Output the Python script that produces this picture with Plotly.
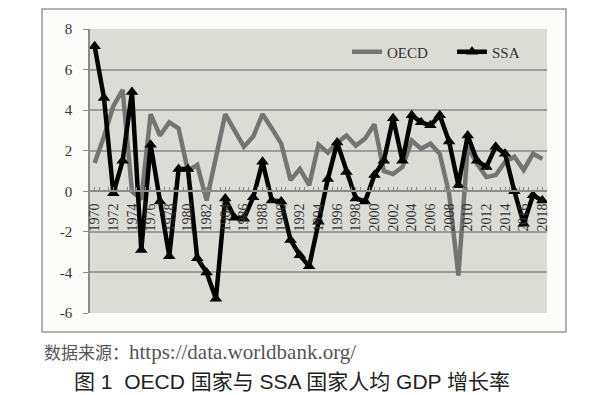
import plotly.graph_objects as go

years = list(range(1970, 2019))
oecd = [1.4, 2.7, 4.2, 5.0, 0.0, -0.4, 3.8, 2.75, 3.4, 3.1, 1.0, 1.3, -0.45,
        1.8, 3.8, 3.0, 2.2, 2.7, 3.8, 3.1, 2.35, 0.55, 1.1, 0.3, 2.3, 1.9,
        2.4, 2.75, 2.25, 2.6, 3.3, 1.0, 0.85, 1.2, 2.5, 2.1, 2.35, 1.85,
        -0.1, -4.15, 2.2, 1.35, 0.7, 0.8, 1.45, 1.7, 1.05, 1.85, 1.6]
ssa = [7.15, 4.6, -0.1, 1.5, 4.9, -2.9, 2.3, -0.5, -3.2, 1.1, 1.1, -3.3,
       -4.0, -5.3, -0.35, -1.3, -1.35, -0.3, 1.45, -0.45, -0.5, -2.4, -3.15,
       -3.7, -1.5, 0.6, 2.4, 0.95, -0.35, -0.5, 0.8, 1.5, 3.6, 1.5, 3.75,
       3.4, 3.25, 3.75, 2.45, 0.3, 2.75, 1.5, 1.2, 2.2, 1.85, 0.0, -1.6,
       -0.2, -0.45]
label_years = [str(y) for y in range(1970, 2019, 2)]
ytick_vals = [-6, -4, -2, 0, 2, 4, 6, 8]

# page body has an 8px margin; lay out in window pixels and convert
OX, OY = 8, 8
W, H = 599 - OX, 395 - OY


def px(x):
    return (x - OX) / W


def py(y):
    return 1 - (y - OY) / H


xd = [px(90), px(547)]
yd = [py(313), py(29)]
ymin, ymax = -6, 8
xpos = yd[0] + (0 - ymin) / (ymax - ymin) * (yd[1] - yd[0])

serif = "Liberation Serif, Noto Sans CJK SC, serif"

fig = go.Figure()
fig.add_trace(go.Scatter(
    x=years, y=oecd, name="OECD", mode="lines",
    line=dict(color="#747474", width=4.5),
))
fig.add_trace(go.Scatter(
    x=years, y=ssa, name="SSA", mode="lines+markers",
    line=dict(color="#000000", width=4.5),
    marker=dict(symbol="triangle-up", size=11, color="#000000"),
))

fig.update_layout(
    width=W, height=H,
    margin=dict(l=0, r=0, t=0, b=0, autoexpand=False),
    paper_bgcolor="#ffffff",
    plot_bgcolor="#dcdcd7",
    showlegend=True,
    legend=dict(
        orientation="h", x=px(347), y=py(52), xanchor="left", yanchor="middle",
        font=dict(family=serif, size=15, color="#333333"),
        bgcolor="rgba(0,0,0,0)", itemwidth=30, entrywidth=60,
    ),
    xaxis=dict(
        domain=xd, range=[1969.5, 2018.5], anchor="free", position=xpos,
        automargin=False,
        tickmode="array", tickvals=[int(v) for v in label_years],
        ticktext=label_years, tickangle=-90,
        tickfont=dict(family=serif, size=14, color="#333333"),
        ticks="inside", ticklen=4, tickcolor="#8a8a8a", tickwidth=1,
        ticklabelstandoff=6,
        minor=dict(tickmode="array",
                   tickvals=[y + 0.5 for y in range(1969, 2019)],
                   ticks="inside", ticklen=4, tickcolor="#8a8a8a"),
        showline=True, linecolor="#8a8a8a", linewidth=1.5,
        showgrid=False, zeroline=False,
    ),
    yaxis=dict(
        domain=yd, range=[ymin, ymax], tickmode="array", tickvals=ytick_vals,
        automargin=False,
        ticktext=[str(v) for v in ytick_vals],
        tickfont=dict(family=serif, size=15, color="#333333"),
        ticks="outside", ticklen=5, tickcolor="#8a8a8a",
        ticklabelstandoff=8,
        showline=True, linecolor="#8a8a8a", linewidth=1.5,
        showgrid=True, gridcolor="#9c9c9c", gridwidth=1.5, zeroline=False,
    ),
    shapes=[
        dict(type="rect", xref="paper", yref="paper", layer="below",
             x0=px(42), x1=px(566), y0=py(332), y1=py(9),
             fillcolor="#fcfcfa", line=dict(color="#9a9a9a", width=1.5)),
        dict(type="rect", xref="x domain", yref="y domain", layer="below",
             x0=0, x1=1, y0=0, y1=1,
             fillcolor="#dcdcd7", line=dict(width=0)),
    ],
    annotations=[
        dict(text='数据来源：<span style="font-size:21px">https://data.worldbank.org/</span>',
             xref="paper", yref="paper",
             x=px(42), y=py(352), xanchor="left", yanchor="middle",
             showarrow=False, font=dict(family=serif, size=17, color="#555555")),
        dict(text="图 1  OECD 国家与 SSA 国家人均 GDP 增长率", xref="paper", yref="paper",
             x=px(292), y=py(381), xanchor="center", yanchor="middle",
             showarrow=False,
             font=dict(family="Liberation Sans, Noto Sans CJK SC, sans-serif",
                       size=21, color="#222222")),
    ],
)

fig.write_html("out.html")
